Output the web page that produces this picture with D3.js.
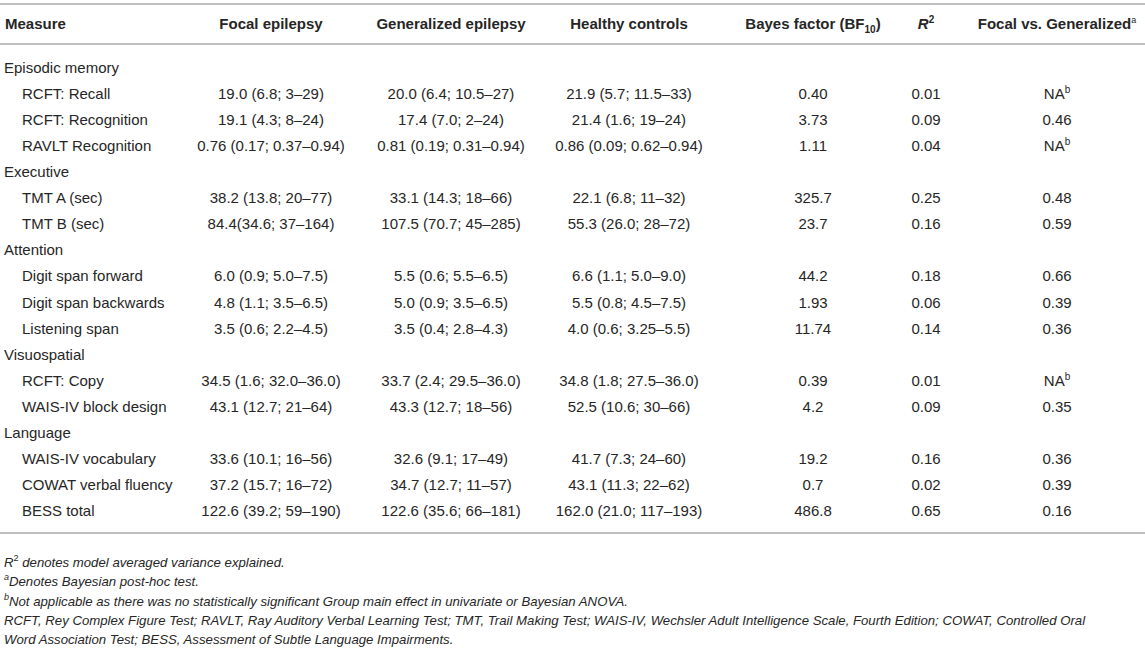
<!DOCTYPE html>
<html>
<head>
<meta charset="utf-8">
<script src="https://cdn.jsdelivr.net/npm/d3@7"></script>
<style>
  body { margin: 0; background: #fff; }
  text { font-family: "Liberation Sans", Arial, sans-serif; fill: #262626; }
</style>
</head>
<body>
<div id="table"></div>
<script>
// sections of the table, and the measures in each one
var sections = ["Episodic memory", "Executive", "Attention", "Visuospatial", "Language"];
var measures = [
  ["RCFT: Recall", "RCFT: Recognition", "RAVLT Recognition"],
  ["TMT A (sec)", "TMT B (sec)"],
  ["Digit span forward", "Digit span backwards", "Listening span"],
  ["RCFT: Copy", "WAIS-IV block design"],
  ["WAIS-IV vocabulary", "COWAT verbal fluency", "BESS total"]
];
var focal = ["19.0 (6.8; 3\u201329)", "19.1 (4.3; 8\u201324)", "0.76 (0.17; 0.37\u20130.94)",
  "38.2 (13.8; 20\u201377)", "84.4(34.6; 37\u2013164)",
  "6.0 (0.9; 5.0\u20137.5)", "4.8 (1.1; 3.5\u20136.5)", "3.5 (0.6; 2.2\u20134.5)",
  "34.5 (1.6; 32.0\u201336.0)", "43.1 (12.7; 21\u201364)",
  "33.6 (10.1; 16\u201356)", "37.2 (15.7; 16\u201372)", "122.6 (39.2; 59\u2013190)"];
var generalized = ["20.0 (6.4; 10.5\u201327)", "17.4 (7.0; 2\u201324)", "0.81 (0.19; 0.31\u20130.94)",
  "33.1 (14.3; 18\u201366)", "107.5 (70.7; 45\u2013285)",
  "5.5 (0.6; 5.5\u20136.5)", "5.0 (0.9; 3.5\u20136.5)", "3.5 (0.4; 2.8\u20134.3)",
  "33.7 (2.4; 29.5\u201336.0)", "43.3 (12.7; 18\u201356)",
  "32.6 (9.1; 17\u201349)", "34.7 (12.7; 11\u201357)", "122.6 (35.6; 66\u2013181)"];
var controls = ["21.9 (5.7; 11.5\u201333)", "21.4 (1.6; 19\u201324)", "0.86 (0.09; 0.62\u20130.94)",
  "22.1 (6.8; 11\u201332)", "55.3 (26.0; 28\u201372)",
  "6.6 (1.1; 5.0\u20139.0)", "5.5 (0.8; 4.5\u20137.5)", "4.0 (0.6; 3.25\u20135.5)",
  "34.8 (1.8; 27.5\u201336.0)", "52.5 (10.6; 30\u201366)",
  "41.7 (7.3; 24\u201360)", "43.1 (11.3; 22\u201362)", "162.0 (21.0; 117\u2013193)"];
var bayes = ["0.40", "3.73", "1.11", "325.7", "23.7", "44.2", "1.93", "11.74",
  "0.39", "4.2", "19.2", "0.7", "486.8"];
var r2 = ["0.01", "0.09", "0.04", "0.25", "0.16", "0.18", "0.06", "0.14",
  "0.01", "0.09", "0.16", "0.02", "0.65"];
var focalVsGen = ["NA", "0.46", "NA", "0.48", "0.59", "0.66", "0.39", "0.36",
  "NA", "0.35", "0.36", "0.39", "0.16"];
var footnotes = [
  "R2 denotes model averaged variance explained.",
  "aDenotes Bayesian post-hoc test.",
  "bNot applicable as there was no statistically significant Group main effect in univariate or Bayesian ANOVA.",
  "RCFT, Rey Complex Figure Test; RAVLT, Ray Auditory Verbal Learning Test; TMT, Trail Making Test; WAIS-IV, Wechsler Adult Intelligence Scale, Fourth Edition; COWAT, Controlled Oral",
  "Word Association Test; BESS, Assessment of Subtle Language Impairments."
];

var W = 1145, H = 649;
var svg = d3.select('#table').append('svg').attr('width', W).attr('height', H);
svg.append('rect').attr('width', W).attr('height', H).attr('fill', '#fff');

// flatten sections + measures into table rows
var rows = [];
var k = 0;
sections.forEach(function(s, i){
  rows.push({type: 'section', label: s});
  measures[i].forEach(function(m){
    rows.push({type: 'item', label: m, vals: [focal[k], generalized[k], controls[k], bayes[k], r2[k], focalVsGen[k]]});
    k++;
  });
});

var cols = ['focal', 'gen', 'hc', 'bf', 'r2', 'fvg'];
var x = d3.scaleOrdinal().domain(cols).range([271, 451, 629, 813, 926, 1057]);
var y = d3.scaleLinear().domain([0, rows.length - 1]).range([68, 511]);
var base = 5; // centre -> baseline shift

// horizontal rules
var rules = [4, 44, 533];
svg.selectAll('line.rule').data(rules).enter().append('line')
  .attr('class', 'rule')
  .attr('x1', 0).attr('x2', W)
  .attr('y1', function(d){ return d; }).attr('y2', function(d){ return d; })
  .attr('stroke', '#aaa').attr('stroke-width', 1.5);

// header
var hy = 24 + base;
var head = svg.append('g').attr('font-size', 15).attr('font-weight', 'bold');
head.append('text').attr('x', 5).attr('y', hy).text('Measure');
var headLabels = ['Focal epilepsy', 'Generalized epilepsy', 'Healthy controls'];
headLabels.forEach(function(h, i){
  head.append('text').attr('x', x(cols[i])).attr('y', hy)
    .attr('text-anchor', 'middle').text(h);
});
var bfT = head.append('text').attr('x', x('bf')).attr('y', hy).attr('text-anchor', 'middle');
bfT.append('tspan').text('Bayes factor (BF');
bfT.append('tspan').attr('font-size', 10).attr('dy', 4).text('10');
bfT.append('tspan').attr('dy', -4).text(')');
var r2T = head.append('text').attr('x', x('r2')).attr('y', hy).attr('text-anchor', 'middle');
r2T.append('tspan').attr('font-style', 'italic').text('R');
r2T.append('tspan').attr('font-size', 10).attr('dy', -6).text('2');
var fvT = head.append('text').attr('x', x('fvg')).attr('y', hy).attr('text-anchor', 'middle');
fvT.append('tspan').text('Focal vs. Generalized');
fvT.append('tspan').attr('font-size', 9).attr('font-weight', 'normal').attr('dy', -6).text('a');

// body rows
var body = svg.append('g').attr('font-size', 15);
var rowG = body.selectAll('g.row').data(rows).enter().append('g')
  .attr('class', 'row')
  .attr('transform', function(d, i){ return 'translate(0,' + (y(i) + base) + ')'; });
rowG.append('text')
  .attr('x', function(d){ return d.type == 'section' ? 4 : 22; })
  .text(function(d){ return d.label; });

rowG.filter(function(d){ return d.type == 'item'; }).each(function(d){
  var g = d3.select(this);
  d.vals.forEach(function(v, j){
    var t = g.append('text').attr('x', x(cols[j])).attr('text-anchor', 'middle');
    if(v == 'NA'){
      t.append('tspan').text('NA');
      t.append('tspan').attr('font-size', 10).attr('dy', -6).text('b');
    } else {
      t.text(v);
    }
  });
});

// footnotes
var foot = svg.append('g').attr('font-size', 13.2).attr('font-style', 'italic');
var fy = d3.scaleLinear().domain([0, footnotes.length - 1]).range([562, 639]);
footnotes.forEach(function(f, i){
  var t = foot.append('text').attr('x', 4).attr('y', fy(i) + base);
  if(i == 0){
    t.append('tspan').text('R');
    t.append('tspan').attr('font-size', 9).attr('font-style', 'normal').attr('dy', -6).text('2');
    t.append('tspan').attr('dy', 6).text(' ' + f.slice(3));
  } else if(i == 1 || i == 2){
    t.append('tspan').attr('font-size', 9).attr('dy', -6).text(f[0]);
    t.append('tspan').attr('dy', 6).text(f.slice(1));
  } else {
    t.text(f);
  }
});
</script>
</body>
</html>
